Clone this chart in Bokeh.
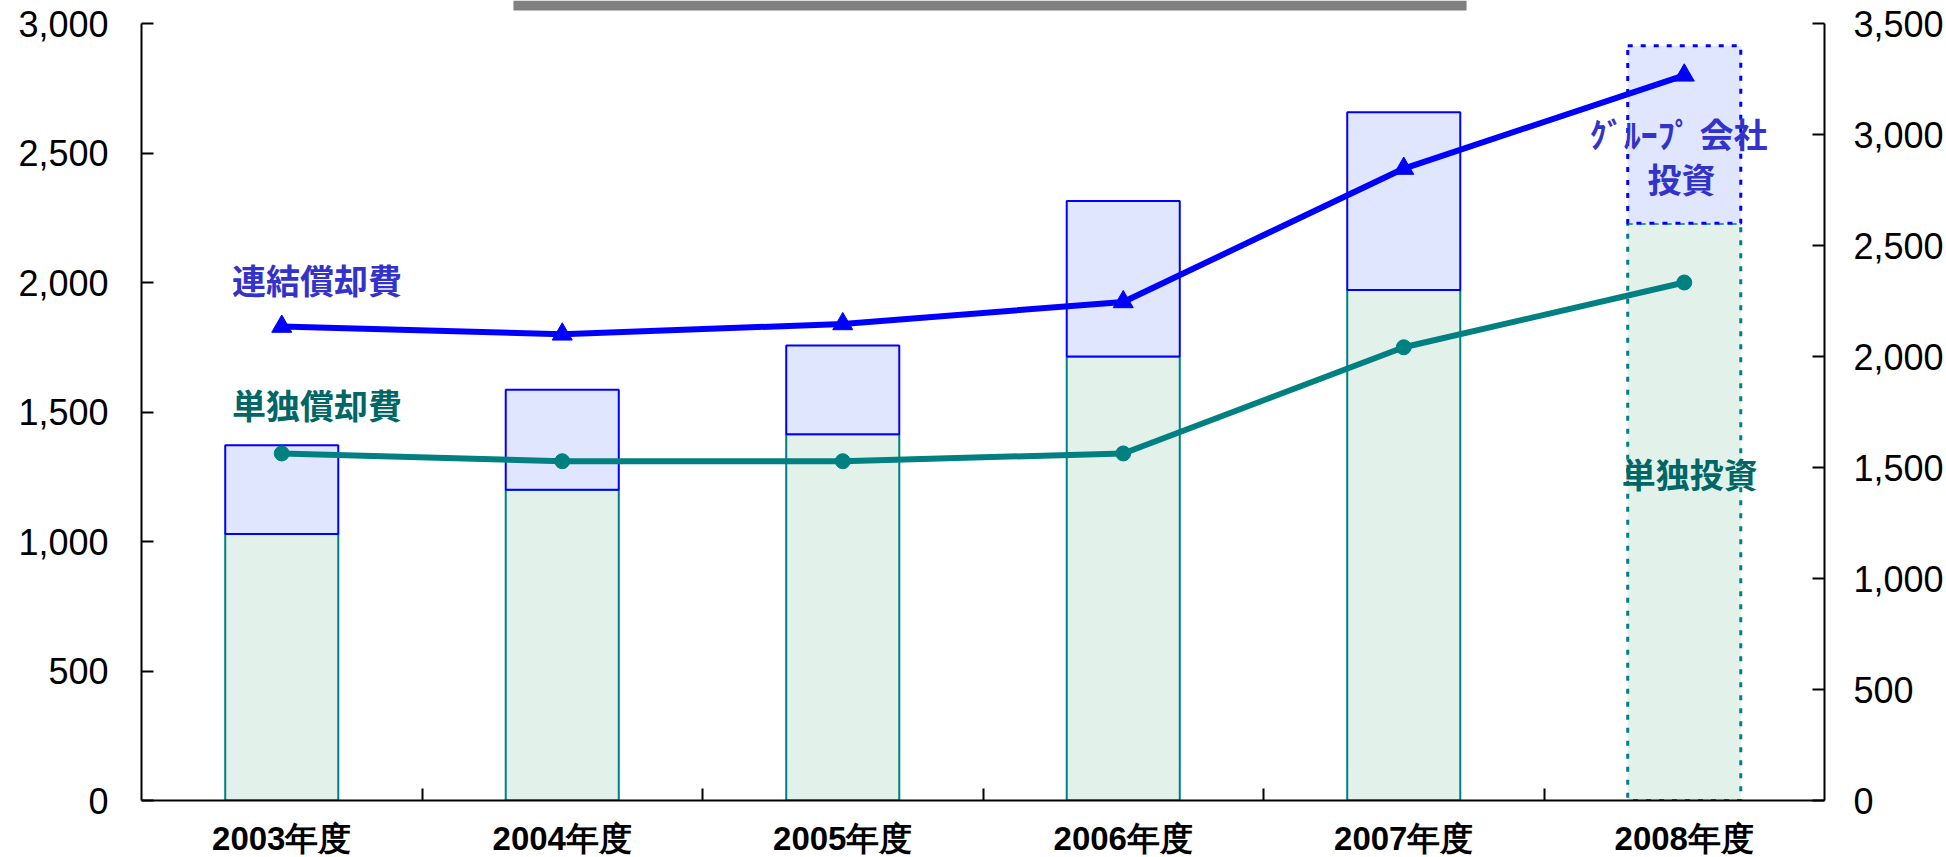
from bokeh.plotting import figure
from bokeh.models import Range1d, LinearAxis, FixedTicker, NumeralTickFormatter, Label
from bokeh.embed import file_html
from bokeh.resources import INLINE

# ---- data ----
years = ["2003年度", "2004年度", "2005年度", "2006年度", "2007年度", "2008年度"]
single_invest = [1200, 1400, 1650, 2000, 2300, 2600]     # 単独投資 (right axis)
total_invest = [1600, 1850, 2050, 2700, 3100, 3400]      # 単独 + グループ会社投資 (right axis)
consol_depr = [1830, 1800, 1840, 1925, 2440, 2800]       # 連結償却費 (left axis)
single_depr = [1340, 1310, 1310, 1340, 1750, 2000]       # 単独償却費 (left axis)
left_ticks = [0, 500, 1000, 1500, 2000, 2500, 3000]
right_ticks = [0, 500, 1000, 1500, 2000, 2500, 3000, 3500]

BLUE = "#0000ff"
TEAL = "#008080"
TXT_BLUE = "#3333cc"
TXT_TEAL = "#006666"
GREEN_FILL = "#e2f2ea"
BLUE_FILL = "#e0e6fd"

xs = list(range(len(years)))
n_solid = 5

# frame runs to the top of the canvas; axes are bounded to their tick ranges
FRAME_H = 800
AXIS_H = 777
left_top = left_ticks[-1] * FRAME_H / AXIS_H
right_top = right_ticks[-1] * FRAME_H / AXIS_H

p = figure(frame_width=1683, frame_height=FRAME_H,
           x_range=Range1d(-0.5, 5.5), y_range=Range1d(0, left_top),
           output_backend="svg", toolbar_location=None,
           min_border_left=141, min_border_top=0, min_border_right=118, min_border_bottom=57)
p.extra_y_ranges = {"right": Range1d(0, right_top)}
p.grid.visible = False
p.outline_line_color = None
p.background_fill_color = "white"
p.border_fill_color = "white"

# cut-off grey title bar at the very top
p.quad(left=0.826, right=4.224, bottom=left_ticks[-1] * (FRAME_H - 10) / AXIS_H, top=left_top,
       fill_color="#808080", line_color=None)

# bars (right axis)
bw = 0.403
p.vbar(x=xs[:n_solid], bottom=0, top=single_invest[:n_solid], width=bw,
       fill_color=GREEN_FILL, line_color=TEAL, line_width=2, y_range_name="right")
p.vbar(x=xs[:n_solid], bottom=single_invest[:n_solid], top=total_invest[:n_solid], width=bw,
       fill_color=BLUE_FILL, line_color=BLUE, line_width=2, y_range_name="right")
p.vbar(x=xs[n_solid:], bottom=0, top=single_invest[n_solid:], width=bw,
       fill_color=GREEN_FILL, line_color=TEAL, line_width=3, line_dash="5 8", y_range_name="right")
p.vbar(x=xs[n_solid:], bottom=single_invest[n_solid:], top=total_invest[n_solid:], width=bw,
       fill_color=BLUE_FILL, line_color=BLUE, line_width=3, line_dash="5 8", y_range_name="right")

# lines (left axis)
p.line(xs, consol_depr, line_color=BLUE, line_width=6)
p.scatter(xs, consol_depr, marker="triangle", size=20, color=BLUE)
p.line(xs, single_depr, line_color=TEAL, line_width=6)
p.scatter(xs, single_depr, marker="circle", size=15, color=TEAL)

# text annotations
def add_label(x, y, text, color, size="34px", baseline="middle", bold=True, font="Noto Sans CJK JP"):
    p.add_layout(Label(x=x, y=y, text=text, text_color=color, text_font=font,
                       text_font_style="bold" if bold else "normal", text_font_size=size,
                       text_align="center", text_baseline=baseline))

add_label(0.126, 2011, "連結償却費", TXT_BLUE)
add_label(0.126, 1529, "単独償却費", TXT_TEAL)
add_label(4.98, 2575, "ｸﾞﾙｰﾌﾟ 会社", TXT_BLUE)
add_label(4.99, 2402, "投資", TXT_BLUE)
add_label(5.02, 1263, "単独投資", TXT_TEAL)
# unit label, cut off at the top edge as in the original
add_label(5.717, 3072, "(億円)", "black", size="36px", baseline="bottom", bold=False)

# axes
ya = p.yaxis[0]
ya.ticker = FixedTicker(ticks=left_ticks)
ya.formatter = NumeralTickFormatter(format="0,0")
ya.bounds = (0, left_ticks[-1])

ra = LinearAxis(y_range_name="right", ticker=FixedTicker(ticks=right_ticks),
                formatter=NumeralTickFormatter(format="0,0"), bounds=(0, right_ticks[-1]))
p.add_layout(ra, "right")

for ax, so in ((ya, 33), (ra, 29)):
    ax.axis_line_width = 2
    ax.axis_line_color = "black"
    ax.major_tick_in = 12
    ax.major_tick_out = 0
    ax.major_tick_line_width = 2
    ax.minor_tick_line_color = None
    ax.major_label_text_font = "Liberation Sans"
    ax.major_label_text_font_size = "36px"
    ax.major_label_text_color = "black"
    ax.major_label_standoff = so

xa = p.xaxis[0]
xa.ticker = FixedTicker(ticks=xs, minor_ticks=[0.5, 1.5, 2.5, 3.5, 4.5])
xa.major_label_overrides = {i: y for i, y in zip(xs, years)}
xa.axis_line_width = 2
xa.axis_line_color = "black"
xa.major_tick_in = 0
xa.major_tick_out = 0
xa.major_tick_line_color = None
xa.minor_tick_in = 12
xa.minor_tick_out = 0
xa.minor_tick_line_width = 2
xa.minor_tick_line_color = "black"
xa.major_label_text_font = "Liberation Sans"
xa.major_label_text_font_style = "bold"
xa.major_label_text_font_size = "33px"
xa.major_label_text_color = "black"
xa.major_label_standoff = 19

open("out.html", "w").write(file_html(p, INLINE))
